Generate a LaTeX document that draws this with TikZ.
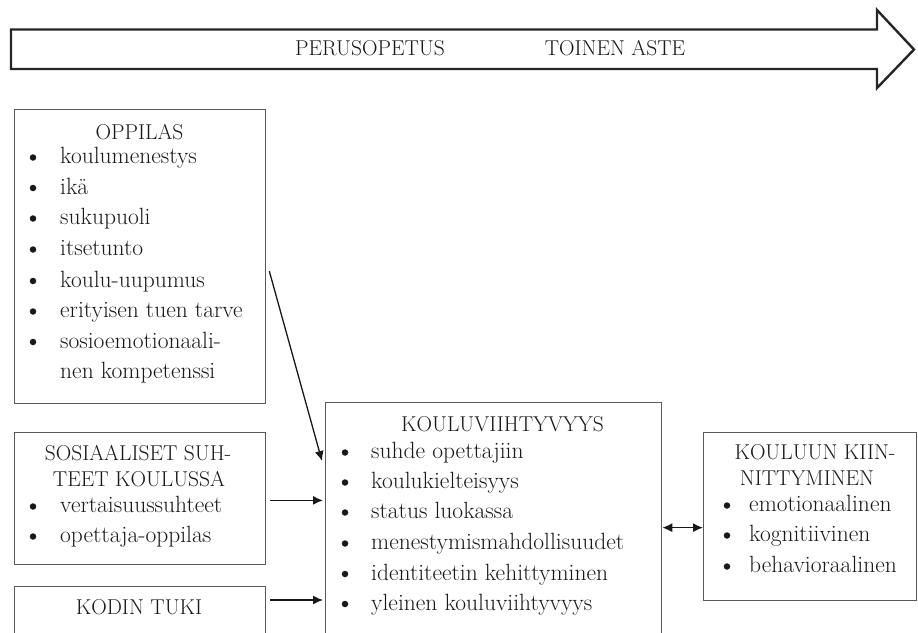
\documentclass[tikz,border=0pt]{standalone}
\usetikzlibrary{arrows.meta}
\newcommand{\teksti}{\fontsize{21.5}{26}\selectfont}
\newcommand{\kohtateksti}{\fontsize{23.5}{28}\selectfont}

\begin{document}
\begin{tikzpicture}[x=1pt,y=-1pt,
  laatikko/.style={draw=black!65, line width=1.3pt, anchor=north west, inner sep=0pt},
  otsikko/.style={anchor=base, font=\teksti, text=black!90, inner sep=0pt},
  kohta/.style={anchor=base west, font=\kohtateksti, text=black!90, inner sep=0pt},
  pallo/.style={circle, fill=black!90, inner sep=0pt, minimum size=6.5pt},
  nuoli/.style={-{Latex[length=10pt,width=9pt]}, line width=1.3pt, black!90},
  kaksinuoli/.style={{Latex[length=10pt,width=9pt]}-{Latex[length=10pt,width=9pt]}, line width=1.3pt, black!90}]
  \useasboundingbox (0,0) rectangle (918,632);
  \clip (0,0) rectangle (918,632);

  % Aikajana
  \draw[line width=2.4pt, line join=miter, black!85] (11,29.5) -- (877,29.5) -- (877,10) -- (914,49.5)
    -- (877,88) -- (877,69) -- (11,69) -- cycle;
  \node[otsikko] (perus) at (370,55) {PERUSOPETUS};
  \node[otsikko] (toinen) at (615,55) {TOINEN ASTE};

  % Laatikot
  \node[laatikko, minimum width=251.5pt, minimum height=294pt] (oppilas) at (13.5,108.5) {};
  \node[laatikko, minimum width=251.5pt, minimum height=131.5pt] (sosiaaliset) at (13.5,432) {};
  \node[laatikko, minimum width=251.5pt, minimum height=90pt] (koti) at (13.5,586) {};
  \node[laatikko, minimum width=336pt, minimum height=260pt] (viihtyvyys) at (325,402) {};
  \node[laatikko, minimum width=213pt, minimum height=168pt] (kiinnittyminen) at (703,432) {};

  % OPPILAS
  \node[otsikko] (oppilasotsikko) at (139.5,139) {OPPILAS};
  \foreach \sana/\y [count=\i] in {koulumenestys/163.5, ikä/194, sukupuoli/224.5, itsetunto/255.5,
      koulu-uupumus/287, erityisen tuen tarve/317.5, sosioemotionaali-/348}
  {
    \node[pallo] (op\i) at (33,\y-6) {};
    \node[kohta] (ot\i) at (60,\y) {\sana};
  }
  \node[kohta] (ot8) at (60,378) {nen kompetenssi};

  % SOSIAALISET SUHTEET
  \node[otsikko] (sosotsikko1) at (138,460) {SOSIAALISET SUH-};
  \node[otsikko] (sosotsikko2) at (139,486) {TEET KOULUSSA};
  \foreach \sana/\y [count=\i] in {vertaisuussuhteet/512.5, opettaja-oppilas/542.5}
  {
    \node[pallo] (sp\i) at (33,\y-6) {};
    \node[kohta] (st\i) at (60,\y) {\sana};
  }

  % KODIN TUKI
  \node[otsikko] (kotiotsikko) at (139,614) {KODIN TUKI};

  % KOULUVIIHTYVYYS
  \node[otsikko] (viihotsikko) at (502.5,431) {KOULUVIIHTYVYYS};
  \foreach \sana/\y [count=\i] in {suhde opettajiin/458.5, koulukielteisyys/488.5, status luokassa/518.5,
      menestymismahdollisuudet/549.5, identiteetin kehittyminen/580, yleinen kouluviihtyvyys/610}
  {
    \node[pallo] (vp\i) at (345,\y-6) {};
    \node[kohta] (vt\i) at (371,\y) {\sana};
  }

  % KOULUUN KIINNITTYMINEN
  \node[otsikko] (kiinotsikko1) at (815,459) {KOULUUN KIIN-};
  \node[otsikko] (kiinotsikko2) at (807,485) {NITTYMINEN};
  \foreach \sana/\y [count=\i] in {emotionaalinen/511.5, kognitiivinen/541.5, behavioraalinen/572.5}
  {
    \node[pallo] (kp\i) at (727,\y-6) {};
    \node[kohta] (kt\i) at (749,\y) {\sana};
  }

  % Nuolet
  \coordinate (sosnuoli) at ([xshift=4pt,yshift=-2pt]sosiaaliset.east);
  \coordinate (kotinuoli) at ([xshift=4pt,yshift=-14pt]koti.north east);
  \coordinate (kiinnuoli) at ([yshift=-11pt]kiinnittyminen.west);
  \draw[nuoli] ([xshift=3pt,yshift=-15pt]oppilas.east) -- ([xshift=-3pt,yshift=-59pt]viihtyvyys.north west);
  \draw[nuoli, shorten >=2pt] (sosnuoli) -- (sosnuoli -| viihtyvyys.west);
  \draw[nuoli, shorten >=2pt] (kotinuoli) -- (kotinuoli -| viihtyvyys.west);
  \draw[kaksinuoli] (kiinnuoli -| viihtyvyys.east) -- (kiinnuoli);
\end{tikzpicture}
\end{document}
